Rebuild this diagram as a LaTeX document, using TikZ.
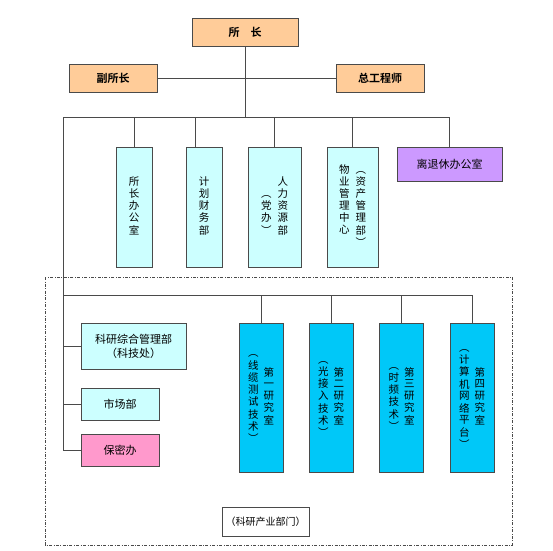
\documentclass[tikz,border=0pt]{standalone}
\usepackage{fontspec}
\setmainfont{Noto Sans CJK SC}[BoldFont={Noto Sans CJK SC Bold}]
\usetikzlibrary{positioning}
\definecolor{lineg}{HTML}{4A4A4A}
\definecolor{orgbox}{HTML}{FFCC99}
\definecolor{cyanbox}{HTML}{CCFFFF}
\definecolor{lilabox}{HTML}{CC99FF}
\definecolor{labbox}{HTML}{00C8F8}
\definecolor{pinkbox}{HTML}{FF99CC}
\newcommand{\vcol}[2][c]{\begin{tabular}[#1]{@{}c@{}}#2\end{tabular}}

\begin{document}
\begin{tikzpicture}[x=1pt,y=-1pt,
        every node/.style={font=\fontsize{11}{14}\selectfont,inner sep=0pt},
        head/.style={draw=lineg,thick,fill=orgbox,font=\bfseries\fontsize{11}{13}\selectfont,minimum height=28pt},
        dept/.style={draw=lineg,thick,fill=cyanbox,minimum height=120pt,font=\fontsize{10.5}{11.5}\selectfont},
        lab/.style={draw=lineg,thick,fill=labbox,minimum width=44pt,minimum height=149pt,font=\fontsize{10.5}{11.5}\selectfont},
        unit/.style={draw=lineg,thick,minimum width=78pt,minimum height=32pt},
        conn/.style={draw=lineg,line width=0.9pt}]
    \useasboundingbox (0,0) rectangle (553,550);
    \node[head,minimum width=106pt] (suozhang) at (245,32) {所\hspace{1em}长};
    \node[head,minimum width=88pt] (fusuo) at (113,78) {副所长};
    \node[head,minimum width=88pt] (zonggong) at (380,78) {总工程师};

    \node[dept,minimum width=36pt] (bangong) at (134,207) {\vcol{所\\长\\办\\公\\室}};
    \node[dept,minimum width=36pt] (jihua) at (204,207) {\vcol{计\\划\\财\\务\\部}};
    \node[dept,minimum width=53pt] (renli) at (274.5,207) {\vcol[b]{︵\\党\\办\\︶}\hspace{6pt}\vcol[b]{人\\力\\资\\源\\部}};
    \node[dept,minimum width=51pt] (wuye) at (352.5,207) {\vcol[t]{物\\业\\管\\理\\中\\心}\hspace{6pt}\vcol[t]{︵\\资\\产\\管\\理\\部\\︶}};
    \node[draw=lineg,thick,fill=lilabox,minimum width=105pt,minimum height=34pt] (lituixiu) at (449.5,164) {离退休办公室};

    \draw[lineg,thick,dash pattern=on 3pt off 1.5pt on 0.8pt off 1.5pt] (45,277) rectangle (512,545);

    \node[unit,fill=cyanbox,minimum width=105pt,minimum height=46pt,align=center] (keyan) at (133.5,346) {科研综合管理部\\（科技处）};
    \node[unit,fill=cyanbox] (shichang) at (120,404) {市场部};
    \node[unit,fill=pinkbox] (baomi) at (120,450) {保密办};

    \node[lab] (yjs1) at (261,397.5) {\vcol{︵\\线\\缆\\测\\试\\技\\术\\︶}\hspace{5pt}\vcol{第\\一\\研\\究\\室}};
    \node[lab] (yjs2) at (331,397.5) {\vcol{︵\\光\\接\\入\\技\\术\\︶}\hspace{5pt}\vcol{第\\二\\研\\究\\室}};
    \node[lab] (yjs3) at (401.5,397.5) {\vcol{︵\\时\\频\\技\\术\\︶}\hspace{5pt}\vcol{第\\三\\研\\究\\室}};
    \node[lab] (yjs4) at (472,397.5) {\vcol{︵\\计\\算\\机\\网\\络\\平\\台\\︶}\hspace{5pt}\vcol{第\\四\\研\\究\\室}};

    \node[draw=lineg,thick,fill=white,minimum width=87pt,minimum height=29pt,font=\fontsize{10}{12}\selectfont] (chanye) at (265.5,521.5) {（科研产业部门）};

    \coordinate (topL) at (63,117);
    \coordinate (midL) at (63,295);
    \draw[conn] (fusuo.east) -- (zonggong.west);
    \draw[conn] (suozhang.south) -- (suozhang.south |- topL);
    \draw[conn] (topL) -| (lituixiu.north);
    \foreach \n in {bangong,renli,wuye}
        \draw[conn] (\n.north) -- (\n.north |- topL);
    \draw[conn] ([xshift=-9pt]jihua.north) -- ([xshift=-9pt]jihua.north |- topL);
    \draw[conn] (topL) |- (baomi.west);
    \draw[conn] (topL |- keyan.west) -- (keyan.west);
    \draw[conn] (topL |- shichang.west) -- (shichang.west);
    \draw[conn] (midL) -| (yjs4.north);
    \foreach \n in {yjs1,yjs2,yjs3}
        \draw[conn] (\n.north) -- (\n.north |- midL);
\end{tikzpicture}
\end{document}
